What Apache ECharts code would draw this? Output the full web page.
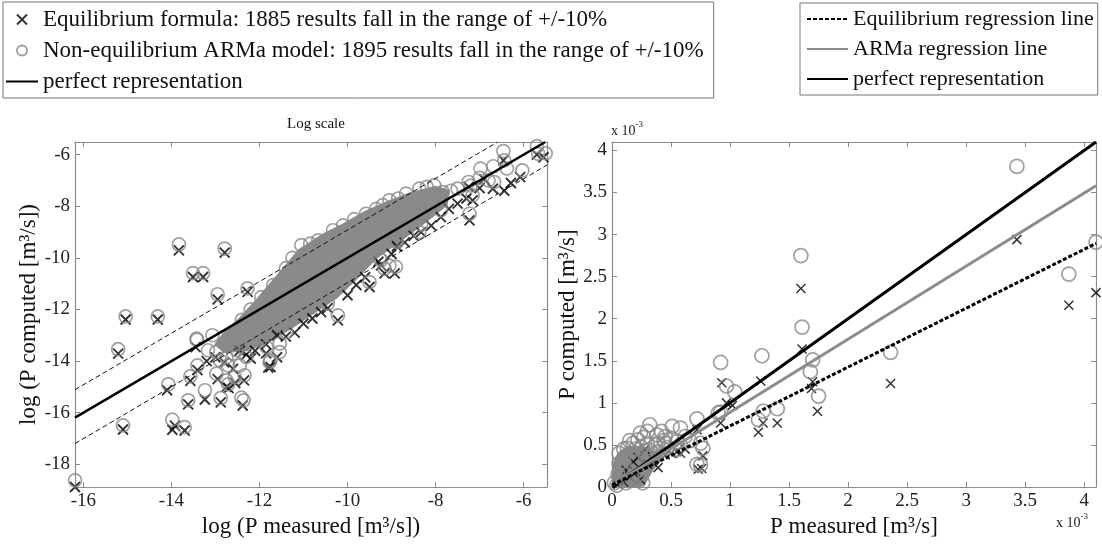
<!DOCTYPE html>
<html>
<head>
<meta charset="utf-8" />
<title>Equilibrium formula vs ARMa model</title>
<script src="https://cdn.jsdelivr.net/npm/echarts@6.0.0/dist/echarts.min.js"></script>
<style>
    body { margin: 0; padding: 0; background: #fff; overflow: hidden; }
    #main { width: 1102px; height: 544px; }
</style>
</head>
<body>
<div id="main"></div>
<script>
// ---------- left panel: log scale ----------
const logTicksX = [-16, -14, -12, -10, -8, -6];
const logTicksY = [-18, -16, -14, -12, -10, -8, -6];
const logRangeX = [-16.19, -5.47];
const logRangeY = [-18.88, -5.51];

// dense core of overlapping markers (outline of the grey mass)
const logCloud = [
    [-13.0, -13.35], [-12.8, -12.9], [-12.45, -12.35], [-12.07, -11.65], [-11.75, -11.0],
    [-11.47, -10.45], [-11.1, -9.7], [-10.56, -9.1], [-10.1, -8.7], [-9.58, -8.2],
    [-9.05, -7.8], [-8.59, -7.5], [-8.0, -7.25], [-7.7, -7.4],
    [-7.75, -7.95], [-8.3, -8.7], [-8.7, -9.2], [-9.35, -10.0], [-9.8, -10.8],
    [-10.26, -11.55], [-10.79, -12.15], [-11.31, -12.75], [-11.92, -13.35], [-12.37, -13.6],
    [-12.8, -13.65]
];

// Non-equilibrium ARMa model (circles)
const logArma = [
    [-13.83, -9.48], [-12.79, -9.64], [-13.51, -10.59], [-13.28, -10.59], [-12.95, -11.41],
    [-12.27, -11.18], [-15.04, -12.27], [-14.31, -12.27], [-15.21, -13.54],
    [-14.07, -14.9], [-15.1, -16.49], [-13.98, -16.27], [-13.7, -16.56], [-16.19, -18.62],
    [-13.62, -15.52], [-13.42, -13.17], [-13.07, -13.0], [-13.41, -14.17], [-13.57, -14.59],
    [-13.24, -15.13], [-12.88, -15.43], [-12.41, -15.42], [-12.36, -15.52], [-12.75, -14.75],
    [-11.75, -13.97], [-13.17, -13.58], [-12.98, -13.65], [-12.75, -13.84], [-12.6, -13.71],
    [-12.9, -13.97], [-12.71, -14.17], [-12.98, -14.49], [-12.56, -14.62], [-12.71, -14.9],
    [-12.34, -14.55], [-12.45, -14.17], [-12.3, -13.84], [-12.56, -13.0], [-12.41, -13.32],
    [-11.99, -13.2], [-11.84, -13.46], [-11.54, -13.32], [-11.54, -13.65], [-11.77, -14.04],
    [-12.52, -13.58], [-11.39, -12.87], [-13.43, -13.13],
    [-11.96, -11.52], [-11.69, -11.06], [-11.05, -9.51], [-10.67, -9.32], [-10.33, -8.93],
    [-10.1, -8.74], [-9.58, -8.29], [-9.2, -7.96], [-9.05, -7.77], [-8.67, -7.51],
    [-8.37, -7.32], [-8.03, -7.19], [-7.84, -7.45], [-12.2, -12.0], [-12.4, -12.4],
    [-11.4, -10.4], [-11.25, -10.0], [-10.85, -9.45], [-9.85, -8.5], [-9.35, -8.1],
    [-8.85, -7.7], [-8.2, -7.25],
    [-7.88, -8.16], [-8.29, -8.29], [-8.37, -9.0], [-8.9, -9.32], [-9.27, -10.03],
    [-9.05, -10.3], [-8.9, -10.35], [-9.5, -10.94], [-10.45, -11.77], [-10.22, -12.23],
    [-9.24, -10.09], [-9.16, -10.42], [-8.88, -9.39], [-8.33, -8.71],
    [-7.23, -8.29], [-7.16, -7.58], [-7.25, -7.06], [-6.98, -6.54], [-6.69, -6.45],
    [-6.46, -5.86], [-6.44, -6.22], [-6.38, -6.54], [-6.67, -7.06], [-6.03, -6.61],
    [-5.67, -5.97], [-5.5, -5.95], [-5.7, -5.67], [-7.5, -7.32], [-7.65, -7.4],
    [-8.1, -7.84], [-7.0, -6.9], [-6.8, -7.0], [-7.2, -7.2]
];

// Equilibrium formula (crosses)
const logEq = [
    [-13.83, -9.71], [-12.79, -9.8], [-13.51, -10.74], [-13.28, -10.74], [-12.95, -11.61],
    [-12.27, -11.32], [-15.04, -12.39], [-14.31, -12.39], [-15.21, -13.71], [-14.1, -15.13],
    [-15.1, -16.65], [-13.92, -16.5], [-13.98, -16.66], [-13.7, -16.69], [-16.19, -18.88],
    [-13.62, -15.68], [-13.45, -13.46], [-13.41, -14.35], [-13.57, -14.77], [-13.24, -15.49],
    [-12.88, -15.6], [-12.38, -15.72], [-12.75, -15.0], [-11.75, -14.23], [-13.0, -13.85],
    [-12.8, -14.05], [-12.6, -14.3], [-12.95, -14.7], [-12.55, -14.85], [-12.35, -14.75],
    [-12.7, -15.05], [-13.2, -14.0], [-12.45, -13.6], [-12.2, -13.9], [-11.85, -13.7],
    [-11.6, -13.85], [-11.8, -14.25], [-11.4, -13.05],
    [-11.2, -12.9], [-11.0, -12.55], [-10.8, -12.35], [-10.6, -12.1], [-10.45, -11.95],
    [-10.22, -12.42], [-10.0, -11.45], [-9.8, -11.05], [-9.6, -10.75], [-9.5, -11.13],
    [-9.24, -10.29], [-9.16, -10.6], [-8.93, -10.6], [-8.88, -9.55], [-9.3, -10.15],
    [-9.0, -9.85], [-8.7, -9.4], [-8.5, -9.15], [-8.33, -9.0], [-8.1, -8.75],
    [-7.88, -8.42], [-7.7, -8.1], [-7.5, -7.9], [-7.23, -8.55], [-7.16, -7.77],
    [-7.3, -7.7], [-7.0, -7.3], [-6.7, -7.32], [-6.44, -7.4], [-6.29, -7.1],
    [-6.46, -6.22], [-6.08, -6.87], [-5.55, -6.1], [-5.7, -6.0], [-6.9, -6.95],
    [-7.25, -7.25], [-11.6, -13.0], [-11.85, -13.35], [-12.1, -13.6], [-12.3, -13.75]
];

const logPerfect = [[-16.19, -16.19], [-5.51, -5.51]];
const logUpper = [[-16.19, -15.11], [-6.6, -5.52]];
const logLower = [[-16.19, -17.2], [-5.47, -6.4]];

// ---------- right panel: linear scale (x 10^-3) ----------
const linTicks = [0, 0.5, 1, 1.5, 2, 2.5, 3, 3.5, 4];
const linRange = [0, 4.1];

const linCloud = [
    [0, 0], [0, 0.15], [0.02, 0.3], [0.06, 0.4], [0.12, 0.47], [0.2, 0.48],
    [0.28, 0.45], [0.36, 0.42], [0.42, 0.38], [0.4, 0.3], [0.34, 0.2], [0.3, 0.1],
    [0.27, 0.02], [0.2, 0]
];

const linArma = [
    [3.43, 3.81], [1.6, 2.75], [1.61, 1.9], [2.36, 1.6], [1.7, 1.51], [1.68, 1.37],
    [1.75, 1.08], [3.87, 2.53], [4.1, 2.91], [1.4, 0.93], [0.92, 1.48], [1.27, 1.56],
    [0.97, 1.2], [1.04, 1.13], [1.28, 0.9], [1.24, 0.8], [0.92, 0.89], [0.9, 0.88],
    [0.72, 0.81], [0.58, 0.7], [0.51, 0.72], [0.32, 0.74], [0.24, 0.64], [0.42, 0.66],
    [0.18, 0.52], [0.27, 0.59], [0.39, 0.52], [0.45, 0.52], [0.55, 0.54], [0.75, 0.52],
    [0.77, 0.46], [0.72, 0.27], [0.75, 0.26], [0.13, 0.46], [0.37, 0.5], [0.47, 0.47],
    [0.2, 0.45], [0.1, 0.35], [0.06, 0.28], [0.25, 0.47], [0.32, 0.44], [0.55, 0.45],
    [0.05, 0.15], [0.08, 0.2], [0.12, 0.22], [0.2, 0.3], [0.28, 0.38], [0.35, 0.4],
    [0.17, 0.1], [0.22, 0.15], [0.26, 0.05], [0.12, 0.05], [0.02, 0.05], [0.04, 0.02],
    [0.15, 0.55], [0.22, 0.56], [0.3, 0.52], [0.38, 0.62], [0.45, 0.6], [0.5, 0.58],
    [0.62, 0.6], [0.66, 0.55], [0.33, 0.35], [0.4, 0.42], [0.1, 0.45], [0.3, 0.66],
    [0.44, 0.55], [0.58, 0.5], [0.06, 0.4]
];

const linEq = [
    [3.43, 2.94], [1.6, 2.36], [1.61, 1.64], [1.7, 1.25], [1.69, 1.17], [1.74, 0.9],
    [2.36, 1.23], [3.87, 2.16], [4.1, 2.31], [0.93, 1.24], [1.26, 1.26], [0.97, 1.0],
    [1.02, 0.97], [0.92, 0.76], [1.24, 0.65], [1.28, 0.76], [1.4, 0.76], [0.72, 0.68],
    [0.58, 0.4], [0.77, 0.37], [0.73, 0.21], [0.39, 0.23], [0.24, 0.09], [0.76, 0.22],
    [0.55, 0.42], [0.45, 0.38], [0.35, 0.32], [0.3, 0.27], [0.2, 0.18], [0.15, 0.12],
    [0.1, 0.06], [0.05, 0.03], [0.62, 0.45], [0.5, 0.4], [0.28, 0.45], [0.22, 0.35],
    [0.18, 0.3], [0.12, 0.2]
];

const linPerfect = [[0, 0], [4.1, 4.1]];
const linArmaFit = [[0, 0.02], [4.1, 3.58]];
const linEqFit = [[0, 0.025], [4.1, 2.895]];

// ---------- texts ----------
const NAME_EQ = 'Equilibrium formula: 1885 results fall in the range of +/-10%';
const NAME_ARMA = 'Non-equilibrium ARMa model: 1895 results fall in the range of +/-10%';
const NAME_PERFECT = 'perfect representation';
const NAME_EQ_FIT = 'Equilibrium regression line';
const NAME_ARMA_FIT = 'ARMa regression line';

const FONT = 'Liberation Serif';
const FRAME = '#8c8c8c';
const GREY = '#888888';
const CROSS = 'path://M0,0L10,10M10,0L0,10';

const chart = echarts.init(document.getElementById('main'), null, { renderer: 'canvas' });

// one axis of a boxed panel; labels only on bottom/left
function axis(gridIndex, position, range, ticks, labels, name, nameGap) {
    return {
        type: 'value', gridIndex: gridIndex, position: position,
        min: range[0], max: range[1],
        name: name || '', nameLocation: 'middle', nameGap: nameGap || 0,
        nameRotate: (position === 'left' && name) ? 90 : 0,
        nameTextStyle: { color: '#111', fontFamily: FONT, fontSize: 23 },
        axisLine: { show: true, onZero: false, lineStyle: { color: FRAME, width: 1.2 } },
        axisTick: { show: true, inside: true, length: 5, customValues: ticks,
            lineStyle: { color: FRAME, width: 1 } },
        axisLabel: { show: labels, customValues: ticks, color: '#222',
            fontFamily: FONT, fontSize: 19, margin: 5 },
        splitLine: { show: false }
    };
}

function cloud(points, xi, yi) {
    return {
        type: 'custom', xAxisIndex: xi, yAxisIndex: yi, silent: true, clip: true,
        data: [points[0]],
        renderItem: function (params, api) {
            return {
                type: 'polygon',
                shape: { points: points.map(function (p) { return api.coord(p); }) },
                style: { fill: '#8a8a8a', stroke: '#8a8a8a', lineWidth: 2 }
            };
        }
    };
}

function crosses(name, data, xi, yi, size, width) {
    return {
        name: name, type: 'scatter', xAxisIndex: xi, yAxisIndex: yi, data: data,
        symbol: CROSS, symbolSize: size,
        itemStyle: { color: 'rgba(0,0,0,0)', borderColor: '#000', borderWidth: width }
    };
}

function circles(name, data, xi, yi, size) {
    return {
        name: name, type: 'scatter', xAxisIndex: xi, yAxisIndex: yi, data: data,
        symbol: 'circle', symbolSize: size,
        itemStyle: { color: 'rgba(0,0,0,0)', borderColor: GREY, borderWidth: 1.7 }
    };
}

function line(name, data, xi, yi, color, width, type) {
    return {
        name: name, type: 'line', xAxisIndex: xi, yAxisIndex: yi, data: data,
        symbol: 'none', showSymbol: false, clip: true,
        lineStyle: { color: color, width: width, type: type || 'solid' },
        itemStyle: { color: color }
    };
}

// legend entry for a line series: hide the marker the legend puts on it
function lineEntry(name) {
    return { name: name, itemStyle: { opacity: 0, borderWidth: 0 } };
}

const legendBase = {
    orient: 'vertical', selectedMode: false,
    borderColor: '#777', borderWidth: 1, borderRadius: 0,
    itemHeight: 10,
    textStyle: { color: '#111', fontFamily: FONT }
};

const option = {
    animation: false,
    backgroundColor: '#fff',
    title: {
        text: 'Log scale', left: 311, top: 112, textAlign: 'center',
        textStyle: { color: '#111', fontFamily: FONT, fontSize: 15, fontWeight: 'normal' }
    },
    legend: [
        Object.assign({}, legendBase, {
            left: 3, top: 2, padding: [6, 10, 5, 2], itemWidth: 32, itemGap: 8,
            textStyle: { color: '#111', fontFamily: FONT, fontSize: 23 },
            data: [NAME_EQ, NAME_ARMA, lineEntry(NAME_PERFECT)]
        }),
        Object.assign({}, legendBase, {
            left: 800, top: 3, padding: [5, 4, 5, 6], itemWidth: 41, itemGap: 8,
            textStyle: { color: '#111', fontFamily: FONT, fontSize: 22 },
            data: [lineEntry(NAME_EQ_FIT), lineEntry(NAME_ARMA_FIT), lineEntry(NAME_PERFECT)]
        })
    ],
    grid: [
        { left: 75, top: 142, width: 472, height: 345, outerBoundsMode: 'none' },
        { left: 612, top: 142, width: 484, height: 345, outerBoundsMode: 'none' }
    ],
    xAxis: [
        axis(0, 'bottom', logRangeX, logTicksX, true, 'log (P measured [m³/s])', 27),
        axis(0, 'top', logRangeX, logTicksX, false),
        axis(1, 'bottom', linRange, linTicks, true, 'P measured [m³/s]', 28),
        axis(1, 'top', linRange, linTicks, false)
    ],
    yAxis: [
        axis(0, 'left', logRangeY, logTicksY, true, 'log (P computed [m³/s])', 34),
        axis(0, 'right', logRangeY, logTicksY, false),
        axis(1, 'left', linRange, linTicks, true, 'P computed [m³/s]', 30),
        axis(1, 'right', linRange, linTicks, false)
    ],
    graphic: [
        {
            type: 'text', left: 611, top: 120,
            style: {
                text: '{a|x 10}{b|-3}',
                rich: {
                    a: { fontFamily: FONT, fontSize: 14, fill: '#222', lineHeight: 18, verticalAlign: 'bottom' },
                    b: { fontFamily: FONT, fontSize: 9, fill: '#222', verticalAlign: 'top' }
                }
            }
        },
        {
            type: 'text', left: 1056, top: 512,
            style: {
                text: '{a|x 10}{b|-3}',
                rich: {
                    a: { fontFamily: FONT, fontSize: 14, fill: '#222', lineHeight: 18, verticalAlign: 'bottom' },
                    b: { fontFamily: FONT, fontSize: 9, fill: '#222', verticalAlign: 'top' }
                }
            }
        }
    ],
    series: [
        // left panel
        cloud(logCloud, 0, 0),
        crosses(NAME_EQ, logEq, 0, 0, 10, 1.9),
        circles(NAME_ARMA, logArma, 0, 0, 13),
        line(NAME_PERFECT, logPerfect, 0, 0, '#000', 2.5),
        line('upper band', logUpper, 0, 0, '#111', 1, [5, 3]),
        line('lower band', logLower, 0, 0, '#111', 1, [5, 3]),
        // right panel
        line(NAME_PERFECT, linPerfect, 2, 2, '#000', 3),
        line(NAME_ARMA_FIT, linArmaFit, 2, 2, '#8c8c8c', 3),
        line(NAME_EQ_FIT, linEqFit, 2, 2, '#000', 3, [4, 2]),
        cloud(linCloud, 2, 2),
        crosses(NAME_EQ, linEq, 2, 2, 9, 1.5),
        circles(NAME_ARMA, linArma, 2, 2, 14)
    ]
};

chart.setOption(option);
window.addEventListener('resize', () => chart.resize());
</script>
</body>
</html>
